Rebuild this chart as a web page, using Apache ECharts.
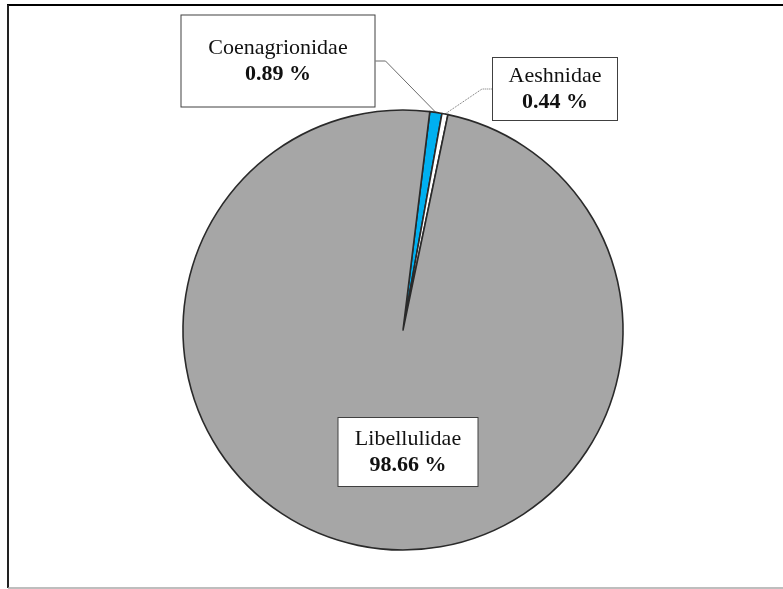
<!DOCTYPE html>
<html>
<head>
<meta charset="utf-8">
<script src="https://cdn.jsdelivr.net/npm/echarts@6/dist/echarts.min.js"></script>
<style>
  html, body { margin: 0; padding: 0; background: #ffffff; }
  #chart { width: 783px; height: 589px; }
</style>
</head>
<body>
<div id="chart"></div>
<script>
// Odonata families and their share of specimens (%)
const families = ['Coenagrionidae', 'Aeshnidae', 'Libellulidae'];
const shares = [0.89, 0.44, 98.66];
const sliceColors = ['#00b0f0', '#ffffff', '#a6a6a6'];

// Label box placement (centre) and size, one per family
const labelBoxes = [
  { cx: 278, cy: 61, w: 193, h: 91, line: 'solid' },
  { cx: 555, cy: 89, w: 124, h: 62, line: 'dotted' },
  { cx: 408, cy: 452, w: 139, h: 68, line: null }
];

const FONT = '"Liberation Serif", "Times New Roman", serif';
const LINE_H = 26;

const chart = echarts.init(document.getElementById('chart'), null, { renderer: 'canvas' });

const pieData = families.map((name, i) => {
  const box = labelBoxes[i];
  const padV = Math.max(0, (box.h - 2 * LINE_H) / 2);
  return {
    name: name,
    value: shares[i],
    itemStyle: { color: sliceColors[i] },
    label: {
      width: box.w,
      padding: [padV, 0, padV, 0]
    },
    labelLine: box.line
      ? { show: true, lineStyle: { type: box.line, color: '#6b6b6b', width: 1 } }
      : { show: false }
  };
});

chart.setOption({
  animation: false,
  backgroundColor: '#ffffff',
  graphic: [
    // picture frame
    { type: 'line', shape: { x1: 7, y1: 5, x2: 783, y2: 5 }, style: { stroke: '#000', lineWidth: 2 } },
    { type: 'line', shape: { x1: 8, y1: 5, x2: 8, y2: 588 }, style: { stroke: '#222', lineWidth: 2 } },
    { type: 'line', shape: { x1: 8, y1: 588, x2: 783, y2: 588 }, style: { stroke: '#a8a8a8', lineWidth: 1.5 } }
  ],
  series: [{
    type: 'pie',
    center: [403, 330],
    radius: [0, 220],
    startAngle: 83,
    clockwise: true,
    avoidLabelOverlap: false,
    emphasis: { disabled: true },
    itemStyle: { borderColor: '#2a2a2a', borderWidth: 1.6 },
    label: {
      show: true,
      position: 'outside',
      formatter: '{n|{b}}\n{v|{c} %}',
      backgroundColor: '#ffffff',
      borderColor: '#404040',
      borderWidth: 1,
      rich: {
        n: { fontFamily: FONT, fontSize: 22, color: '#111', lineHeight: LINE_H, align: 'center' },
        v: { fontFamily: FONT, fontSize: 22, fontWeight: 'bold', color: '#111', lineHeight: LINE_H, align: 'center' }
      }
    },
    labelLine: { length: 10, length2: 10, smooth: false },
    labelLayout: function (params) {
      const box = labelBoxes[params.dataIndex];
      return {
        x: box.cx,
        y: box.cy,
        align: 'center',
        verticalAlign: 'middle',
        moveOverlap: null
      };
    },
    data: pieData
  }]
});
</script>
</body>
</html>
